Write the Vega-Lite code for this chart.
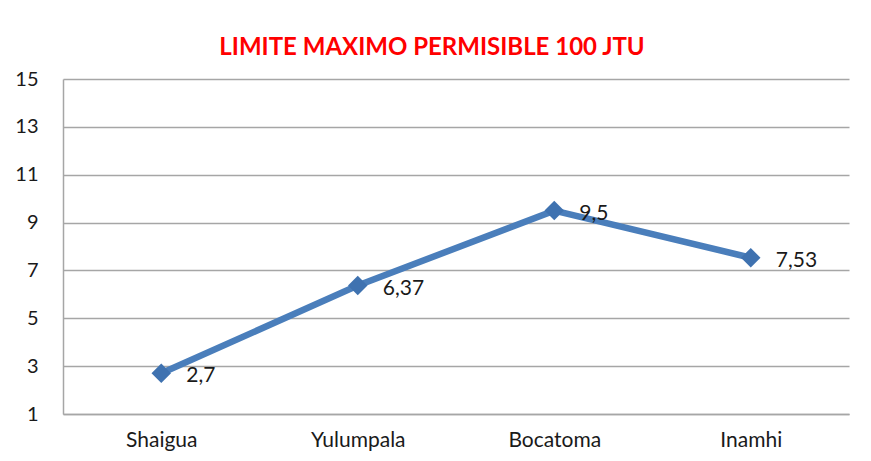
{
  "$schema": "https://vega.github.io/schema/vega-lite/v6.json",
  "width": 786,
  "height": 335,
  "autosize": "none",
  "padding": {"left": 63, "top": 79, "right": 22, "bottom": 47},
  "background": "white",
  "title": {
    "text": "LIMITE MAXIMO PERMISIBLE 100 JTU",
    "color": "#FF0000",
    "font": "Lato",
    "fontSize": 24,
    "fontWeight": "bold",
    "anchor": "middle",
    "dx": -24,
    "offset": 9
  },
  "data": {
    "values": [
      {"sitio": "Shaigua", "valor": 2.7, "etiqueta": "2,7"},
      {"sitio": "Yulumpala", "valor": 6.37, "etiqueta": "6,37"},
      {"sitio": "Bocatoma", "valor": 9.5, "etiqueta": "9,5"},
      {"sitio": "Inamhi", "valor": 7.53, "etiqueta": "7,53"}
    ]
  },
  "encoding": {
    "x": {
      "field": "sitio",
      "type": "ordinal",
      "sort": null,
      "scale": {"type": "point", "padding": 0.5},
      "axis": {
        "title": null,
        "labelAngle": 0,
        "labelFont": "Lato",
        "labelFontSize": 21,
        "labelColor": "#1a1a1a",
        "labelPadding": 15,
        "ticks": false,
        "grid": false,
        "domainColor": "#a6a6a6",
        "domainWidth": 1.5
      }
    },
    "y": {
      "field": "valor",
      "type": "quantitative",
      "scale": {"domain": [1, 15], "nice": false, "zero": false},
      "axis": {
        "title": null,
        "values": [1, 3, 5, 7, 9, 11, 13, 15],
        "labelFont": "Lato",
        "labelFontSize": 20,
        "labelColor": "#1a1a1a",
        "labelPadding": 25,
        "ticks": false,
        "gridColor": "#a6a6a6",
        "gridWidth": 1.5,
        "domainColor": "#a6a6a6",
        "domainWidth": 1.5
      }
    }
  },
  "layer": [
    {
      "mark": {"type": "line", "color": "#4A7EBB", "strokeWidth": 6.5}
    },
    {
      "mark": {"type": "point", "shape": "diamond", "filled": true, "color": "#3F72B0", "size": 380, "opacity": 1}
    },
    {
      "mark": {"type": "text", "align": "left", "baseline": "middle", "dx": 25, "dy": 3, "font": "Lato", "fontSize": 21, "color": "#1a1a1a"},
      "encoding": {"text": {"field": "etiqueta"}}
    }
  ],
  "config": {"view": {"stroke": null}}
}
